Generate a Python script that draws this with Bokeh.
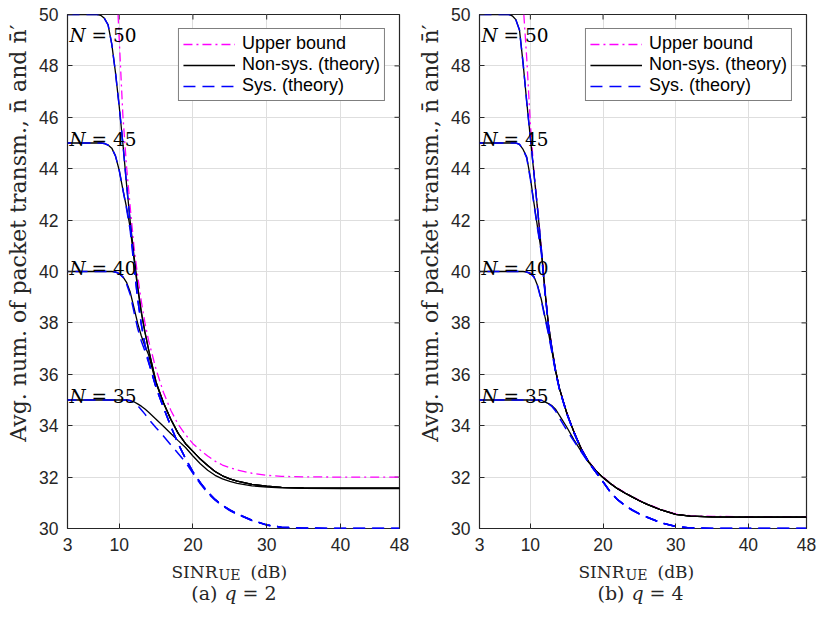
import math
from bokeh.plotting import figure
from bokeh.models import Range1d, FixedTicker, Legend, LegendItem
from bokeh.layouts import row, column
from bokeh.embed import file_html
from bokeh.resources import INLINE
from bokeh.core.properties import value

# ---------------- data ----------------
SINR_DB = [3, 5, 7, 7.5, 8, 8.5, 9, 9.5, 10, 10.5, 11, 11.5, 12, 12.5, 13, 13.5, 14,
           15, 16, 17, 18, 19, 20, 21, 22, 23, 24, 25, 26, 28, 30, 32, 35, 40, 48]
X_TICKS = [3, 10, 20, 30, 40, 48]
Y_TICKS = [30, 32, 34, 36, 38, 40, 42, 44, 46, 48, 50]
N_VALUES = [50, 45, 40, 35]

# (a) q = 2
UB_Q2_X = [9.85, 10, 10.5, 11, 11.5, 12, 12.5, 13, 13.5, 14, 15, 16, 17, 18, 19, 20,
           21, 22, 23, 24, 25, 26, 28, 30, 32, 35, 40, 48]
UB_Q2 = [50, 49.1, 46.1, 44.1, 42.5, 41.0, 39.85, 38.85, 38.0, 37.3, 36.2, 35.3, 34.6,
         34.05, 33.65, 33.3, 33.05, 32.82, 32.62, 32.47, 32.37, 32.28, 32.15, 32.07,
         32.03, 32.01, 32.0, 32.0]
NONSYS_Q2_N50 = [50, 50, 50, 49.97, 49.85, 49.6, 48.85, 47.75, 46.45, 45.0, 43.4, 41.95,
                 40.65, 39.45, 38.45, 37.65, 36.95, 35.7, 34.9, 34.25, 33.7, 33.3, 33.0,
                 32.7, 32.45, 32.22, 32.05, 31.93, 31.84, 31.72, 31.65, 31.6, 31.58,
                 31.57, 31.57]
NONSYS_Q2_N45 = [45, 45, 45, 45, 44.98, 44.92, 44.8, 44.5, 43.95, 43.2, 42.5, 41.7,
                 40.5, 39.35, 38.4, 37.62, 36.95, 35.7, 34.9, 34.25, 33.7, 33.3, 33.0,
                 32.7, 32.45, 32.22, 32.05, 31.93, 31.84, 31.72, 31.65, 31.6, 31.58,
                 31.57, 31.57]
NONSYS_Q2_N40 = [40, 40, 40, 40, 40, 40, 40, 39.98, 39.92, 39.8, 39.58, 39.2, 38.6,
                 38.0, 37.5, 37.1, 36.75, 35.65, 34.88, 34.25, 33.7, 33.3, 33.0, 32.7,
                 32.45, 32.22, 32.05, 31.93, 31.84, 31.72, 31.65, 31.6, 31.58, 31.57,
                 31.57]
NONSYS_Q2_N35 = [35, 35, 35, 35, 35, 35, 35, 35, 35, 35, 35, 34.98, 34.93, 34.85, 34.76,
                 34.65, 34.52, 34.25, 33.98, 33.7, 33.42, 33.15, 32.82, 32.52, 32.27,
                 32.07, 31.93, 31.83, 31.76, 31.66, 31.61, 31.58, 31.56, 31.55, 31.55]
SYS_Q2_N50 = [50, 50, 50, 49.97, 49.85, 49.6, 48.85, 47.75, 46.45, 45.0, 43.4, 41.9,
              40.3, 38.95, 37.95, 37.15, 36.5, 35.5, 34.72, 33.98, 33.3, 32.72, 32.2,
              31.78, 31.42, 31.13, 30.9, 30.72, 30.57, 30.32, 30.14, 30.05, 30.01, 30.0,
              30.0]
SYS_Q2_N45 = [45, 45, 45, 45, 44.98, 44.92, 44.8, 44.5, 43.95, 43.2, 42.45, 41.6, 40.25,
              38.95, 37.95, 37.15, 36.5, 35.5, 34.72, 33.98, 33.3, 32.72, 32.2, 31.78,
              31.42, 31.13, 30.9, 30.72, 30.57, 30.32, 30.14, 30.05, 30.01, 30.0, 30.0]
SYS_Q2_N40 = [40, 40, 40, 40, 40, 40, 40, 39.98, 39.92, 39.78, 39.52, 39.1, 38.45, 37.8,
              37.3, 36.9, 36.45, 35.48, 34.71, 33.98, 33.3, 32.72, 32.2, 31.78, 31.42,
              31.13, 30.9, 30.72, 30.57, 30.32, 30.14, 30.05, 30.01, 30.0, 30.0]
SYS_Q2_N35 = [35, 35, 35, 35, 35, 35, 35, 35, 35, 35, 35, 34.97, 34.9, 34.78, 34.62,
              34.45, 34.25, 33.92, 33.6, 33.25, 32.92, 32.58, 32.15, 31.74, 31.38, 31.1,
              30.88, 30.7, 30.55, 30.31, 30.13, 30.04, 30.01, 30.0, 30.0]

# (b) q = 4
UB_Q4_X = [9.1, 9.5, 10, 10.5, 11, 11.5, 12, 12.5, 13, 13.5, 14, 15, 16, 17, 18, 19, 20,
           21, 22, 23, 24, 25, 26, 28, 30, 32, 35, 40, 48]
UB_Q4 = [50, 48.3, 45.75, 43.85, 42.45, 40.95, 39.35, 37.93, 36.98, 36.12, 35.47, 34.52,
         33.77, 33.12, 32.62, 32.27, 32.0, 31.77, 31.57, 31.4, 31.25, 31.1, 30.97, 30.74,
         30.57, 30.5, 30.47, 30.46, 30.46]
NONSYS_Q4_N50 = [50, 50, 50, 49.95, 49.8, 49.4, 48.1, 46.6, 45.2, 43.8, 42.4, 40.9,
                 39.3, 37.9, 36.95, 36.1, 35.45, 34.5, 33.75, 33.1, 32.6, 32.25, 31.98,
                 31.75, 31.55, 31.38, 31.23, 31.08, 30.95, 30.72, 30.55, 30.48, 30.45,
                 30.44, 30.44]
NONSYS_Q4_N45 = [45, 45, 45, 45, 45, 44.95, 44.75, 44.45, 43.65, 42.65, 41.7, 40.8,
                 39.25, 37.9, 36.95, 36.1, 35.45, 34.5, 33.75, 33.1, 32.6, 32.25, 31.98,
                 31.75, 31.55, 31.38, 31.23, 31.08, 30.95, 30.72, 30.55, 30.48, 30.45,
                 30.44, 30.44]
NONSYS_Q4_N40 = [40, 40, 40, 40, 40, 40, 40, 39.98, 39.93, 39.8, 39.45, 38.92, 38.25,
                 37.6, 36.85, 36.1, 35.45, 34.5, 33.75, 33.1, 32.6, 32.25, 31.98, 31.75,
                 31.55, 31.38, 31.23, 31.08, 30.95, 30.72, 30.55, 30.48, 30.45, 30.44,
                 30.44]
NONSYS_Q4_N35 = [35, 35, 35, 35, 35, 35, 35, 35, 35, 35, 35, 34.99, 34.93, 34.86, 34.77,
                 34.63, 34.4, 33.95, 33.45, 33.0, 32.58, 32.25, 31.98, 31.75, 31.55,
                 31.38, 31.23, 31.08, 30.95, 30.72, 30.55, 30.48, 30.45, 30.44, 30.44]
SYS_Q4_N50 = [50, 50, 50, 49.95, 49.8, 49.4, 48.1, 46.6, 45.2, 43.8, 42.4, 40.9, 39.25,
              37.85, 36.9, 36.05, 35.42, 34.48, 33.73, 33.08, 32.58, 32.2, 31.82, 31.42,
              31.12, 30.9, 30.72, 30.57, 30.45, 30.22, 30.08, 30.02, 30.0, 30.0, 30.0]
SYS_Q4_N45 = [45, 45, 45, 45, 45, 44.95, 44.75, 44.42, 43.6, 42.6, 41.65, 40.75, 39.2,
              37.85, 36.9, 36.05, 35.42, 34.48, 33.73, 33.08, 32.58, 32.2, 31.82, 31.42,
              31.12, 30.9, 30.72, 30.57, 30.45, 30.22, 30.08, 30.02, 30.0, 30.0, 30.0]
SYS_Q4_N40 = [40, 40, 40, 40, 40, 40, 40, 39.98, 39.92, 39.78, 39.42, 38.88, 38.2, 37.55,
              36.8, 36.05, 35.42, 34.48, 33.73, 33.08, 32.58, 32.2, 31.82, 31.42, 31.12,
              30.9, 30.72, 30.57, 30.45, 30.22, 30.08, 30.02, 30.0, 30.0, 30.0]
SYS_Q4_N35 = [35, 35, 35, 35, 35, 35, 35, 35, 35, 35, 35, 34.99, 34.93, 34.85, 34.74,
              34.56, 34.3, 33.83, 33.4, 32.98, 32.57, 32.2, 31.82, 31.42, 31.12, 30.9,
              30.72, 30.57, 30.45, 30.22, 30.08, 30.02, 30.0, 30.0, 30.0]

LEGEND_LABELS = ["Upper bound", "Non-sys. (theory)", "Sys. (theory)"]
Y_LABEL = "Avg. num. of packet transm., n\u0304 and n\u0304\u2032"

# ---------------- styling ----------------
AX = "#262626"
SERIF = "DejaVu Serif"
SANS = "Liberation Sans"
N_LABEL_Y = {50: 49.2, 45: 45.12, 40: 40.1, 35: 35.12}
FRAME_W = 332
FRAME_H = 514
TOP = 14
BOTTOM = 28
CAP_H = 64
DASH_ON, DASH_OFF = 12, 7
ALIGN_IDX = 22   # dashes of the overlapping sys. curves share phase from here on


def path_len(xs, ys, upto):
    sx = FRAME_W / 45.0
    sy = FRAME_H / 20.0
    return sum(math.hypot((xs[i + 1] - xs[i]) * sx, (ys[i + 1] - ys[i]) * sy)
               for i in range(upto))


def make_panel(ub_x, ub_y, nonsys, sys_, left, right):
    p = figure(width=left + FRAME_W + right, height=TOP + FRAME_H + BOTTOM,
               x_range=Range1d(3, 48), y_range=Range1d(30, 50),
               output_backend="svg", toolbar_location=None,
               min_border_left=left, min_border_right=right,
               min_border_top=TOP, min_border_bottom=BOTTOM,
               background_fill_color="white", border_fill_color="white")
    p.outline_line_color = AX
    p.outline_line_width = 1.2

    p.xaxis.ticker = FixedTicker(ticks=X_TICKS)
    p.yaxis.ticker = FixedTicker(ticks=Y_TICKS)
    for ax in (p.xaxis[0], p.yaxis[0]):
        ax.axis_line_color = None
        ax.major_tick_in = 5
        ax.major_tick_out = 0
        ax.major_tick_line_color = AX
        ax.minor_tick_line_color = None
        ax.major_label_text_font = SANS
        ax.major_label_text_font_size = "17.5px"
        ax.major_label_text_color = AX
    p.xaxis.major_label_standoff = 9
    p.yaxis.major_label_standoff = 9
    # leading no-break spaces shift the centred title upwards, as in the original
    p.yaxis.axis_label = "\u00a0" * 11 + Y_LABEL
    p.yaxis.axis_label_text_font = SERIF
    p.yaxis.axis_label_text_font_size = "22px"
    p.yaxis.axis_label_text_font_style = "normal"
    p.yaxis.axis_label_text_color = AX
    p.yaxis.axis_label_standoff = 5

    p.xgrid.grid_line_color = "#dedede"
    p.ygrid.grid_line_color = "#dedede"

    # inward tick marks on the top and right edges of the box
    p.ray(x=X_TICKS, y=[50] * len(X_TICKS), length=5, length_units="screen",
          angle=-90, angle_units="deg", line_color=AX, line_width=1)
    p.ray(x=[48] * len(Y_TICKS), y=Y_TICKS, length=5, length_units="screen",
          angle=180, angle_units="deg", line_color=AX, line_width=1)

    r_ub = p.line(ub_x, ub_y, line_color="#ff00ff", line_width=1.3, line_dash="9 4 2 4")
    r_ns = [p.line(SINR_DB, ys, line_color="black", line_width=1.3) for ys in nonsys]
    period = DASH_ON + DASH_OFF
    ref_len = path_len(SINR_DB, sys_[0], ALIGN_IDX)
    r_s = []
    for ys in sys_:
        off = (ref_len - path_len(SINR_DB, ys, ALIGN_IDX)) % period
        r_s.append(p.line(SINR_DB, ys, line_color="#0000ff", line_width=1.5,
                          line_dash="%d %d" % (DASH_ON, DASH_OFF),
                          line_dash_offset=int(round(off))))

    for n in N_VALUES:
        yl = N_LABEL_Y[n]
        p.text(x=[3], y=[yl], text=["N"], x_offset=2, text_baseline="alphabetic",
               text_font=value(SERIF), text_font_size="18.5px", text_font_style="italic",
               text_color="black")
        p.text(x=[3], y=[yl], text=["= %d" % n], x_offset=24, text_baseline="alphabetic",
               text_font=value(SERIF), text_font_size="18.5px", text_color="black")

    legend = Legend(items=[LegendItem(label=LEGEND_LABELS[0], renderers=[r_ub]),
                           LegendItem(label=LEGEND_LABELS[1], renderers=[r_ns[0]]),
                           LegendItem(label=LEGEND_LABELS[2], renderers=[r_s[0]])],
                    location="top_right", margin=14, padding=4, spacing=0,
                    glyph_width=52, glyph_height=20, label_height=20, label_standoff=7,
                    label_text_font=SANS, label_text_font_size="18px",
                    label_text_color="black", border_line_color="black",
                    border_line_width=1.2, background_fill_color="white",
                    background_fill_alpha=1.0)
    p.add_layout(legend)
    return p


def make_caption(letter, qval, left, right):
    c = figure(width=left + FRAME_W + right, height=CAP_H,
               x_range=Range1d(3, 48), y_range=Range1d(0, CAP_H),
               output_backend="svg", toolbar_location=None,
               x_axis_location=None, y_axis_location=None,
               min_border_left=left, min_border_right=right,
               min_border_top=0, min_border_bottom=0,
               outline_line_color=None, background_fill_color="white",
               border_fill_color="white")
    c.xgrid.visible = False
    c.ygrid.visible = False
    xc = [25.5]

    def t(txt, align, dx, y, size, style="normal"):
        c.text(x=xc, y=[y], text=[txt], text_align=align, text_baseline="alphabetic",
               x_offset=dx, text_font=value(SERIF), text_font_size=size,
               text_font_style=style, text_color=AX)

    # x-axis title: SINR_UE (dB)
    t("SINR", "right", -16, 49, "17px")
    t("UE", "left", -15, 46, "14px")
    t("(dB)", "left", 17, 49, "17px")
    # sub-figure caption
    t("(%s)" % letter, "right", -16, 28, "19px")
    t("q", "center", -3, 28, "19px", "italic")
    t("= %d" % qval, "left", 9, 28, "19px")
    return c


p1 = make_panel(UB_Q2_X, UB_Q2,
                [NONSYS_Q2_N50, NONSYS_Q2_N45, NONSYS_Q2_N40, NONSYS_Q2_N35],
                [SYS_Q2_N50, SYS_Q2_N45, SYS_Q2_N40, SYS_Q2_N35], 67, 16)
p2 = make_panel(UB_Q4_X, UB_Q4,
                [NONSYS_Q4_N50, NONSYS_Q4_N45, NONSYS_Q4_N40, NONSYS_Q4_N35],
                [SYS_Q4_N50, SYS_Q4_N45, SYS_Q4_N40, SYS_Q4_N35], 59, 16)
c1 = make_caption("a", 2, 67, 16)
c2 = make_caption("b", 4, 59, 16)

layout = column(row(p1, p2, spacing=0), row(c1, c2, spacing=0), spacing=0)
open("out.html", "w").write(file_html(layout, INLINE))
